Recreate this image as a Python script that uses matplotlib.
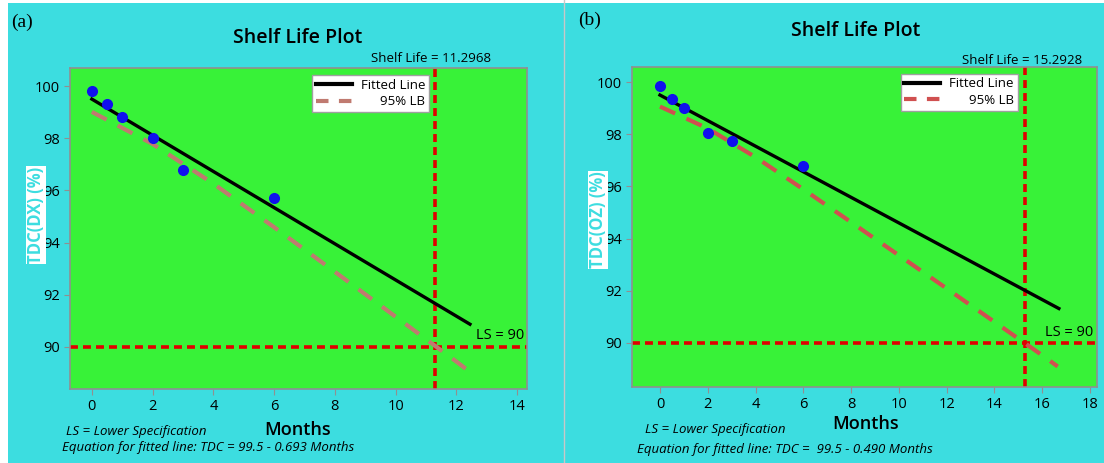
import matplotlib
matplotlib.use("Agg")
import matplotlib.pyplot as plt
from matplotlib.lines import Line2D
from matplotlib.patches import Rectangle

plt.rcParams['font.family'] = ['Open Sans', 'DejaVu Sans']

# measured points
months_a = [0, 0.5, 1, 2, 3, 6]
tdc_dx = [99.8, 99.3, 98.8, 98.0, 96.8, 95.7]
months_b = [0, 0.5, 1, 2, 3, 6]
tdc_oz = [99.85, 99.35, 99.0, 98.05, 97.75, 96.8]

# fitted line ends
fit_x_a = [0, 12.45]
fit_y_a = [99.5, 90.87]
fit_x_b = [0, 16.7]
fit_y_b = [99.5, 91.32]

# 95% lower bound curves
lb_x_a = [0, 2, 4, 6, 8, 10, 12, 12.35]
lb_y_a = [99.01, 97.78, 96.26, 94.59, 92.88, 91.16, 89.44, 89.13]
lb_x_b = [0, 2, 4, 6, 8, 10, 12, 14, 16, 16.65]
lb_y_b = [99.06, 98.22, 97.12, 95.89, 94.63, 93.36, 92.09, 90.81, 89.53, 89.1]

shelf_a = 11.2968
shelf_b = 15.2928
ls_value = 90

CYAN = '#3cdde0'
GREEN = '#38f238'
RED = '#e00000'
W, H = 1104, 463

fig = plt.figure(figsize=(11.04, 4.63), dpi=100, facecolor=CYAN)


def ftext(x, y, s, **kw):
    return fig.text(x / W, 1 - y / H, s, **kw)


legends = []


def panel(rect, xs, ys, fx, fy, lx, ly, shelf, lbcol, xlim, xticks, ylim, ls_pos, leg_anchor):
    ax = fig.add_axes(rect)
    ax.set_facecolor(GREEN)
    for s in ax.spines.values():
        s.set_color('#909090')
        s.set_linewidth(1.2)
    ax.axhline(ls_value, color=RED, lw=2.6, ls=(0, (2.2, 1.4)), zorder=2)
    ax.axvline(shelf, color=RED, lw=2.6, ls=(0, (2.2, 1.4)), zorder=2)
    ax.plot(lx, ly, color=lbcol, lw=3, ls=(0, (4, 3)), zorder=3)
    ax.plot(fx, fy, color='black', lw=2.4, zorder=4)
    ax.plot(xs, ys, 'o', color='#1010ee', ms=7, zorder=5)
    ax.set_xlim(*xlim)
    ax.set_ylim(*ylim)
    ax.set_xticks(xticks)
    ax.set_yticks([90, 92, 94, 96, 98, 100])
    ax.tick_params(colors='#909090', labelcolor='black', labelsize=10.5, length=4)
    ax.text(ls_pos[0], ls_pos[1], 'LS = 90', transform=ax.transAxes, ha='right', va='center', fontsize=10.5)
    handles = [Line2D([], [], color='black', lw=3),
               Line2D([], [], color=lbcol, lw=3, ls=(0, (3, 2.5)))]
    leg = ax.legend(handles, ['Fitted Line', '95% LB'], loc='upper right', bbox_to_anchor=leg_anchor,
                    fontsize=9.5, frameon=True, fancybox=False, framealpha=1, edgecolor='#a0a0a0',
                    borderpad=0.3, handlelength=2.7, labelspacing=0.25, handletextpad=0.7, borderaxespad=0)
    leg.get_frame().set_linewidth(1)
    legends.append(leg)
    return ax


panel([0.0634, 0.160, 0.414, 0.693], months_a, tdc_dx, fit_x_a, fit_y_a, lb_x_a, lb_y_a, shelf_a,
      '#c07a70', (-0.72, 14.33), [0, 2, 4, 6, 8, 10, 12, 14], (88.39, 100.69),
      (0.993, 0.165), (0.786, 0.978))
panel([0.5725, 0.164, 0.421, 0.691], months_b, tdc_oz, fit_x_b, fit_y_b, lb_x_b, lb_y_b, shelf_b,
      '#d05050', (-1.17, 18.29), [0, 2, 4, 6, 8, 10, 12, 14, 16, 18], (88.31, 100.57),
      (0.993, 0.172), (0.83, 0.98))

# shelf life notes (drawn under the axes, as in the original)
ftext(491, 59, 'Shelf Life = %s' % shelf_a, fontsize=9.5, ha='right', va='center', zorder=-1)
ftext(1082, 60, 'Shelf Life = %s' % shelf_b, fontsize=9.5, ha='right', va='center', zorder=-1)

# panel labels and titles
ftext(11, 22, '(a)', family='Liberation Serif', fontsize=14, va='center', ha='left')
ftext(578, 20, '(b)', family='Liberation Serif', fontsize=14, va='center', ha='left')
ftext(298, 38, 'Shelf Life Plot', fontsize=14, fontweight='semibold', ha='center', va='center')
ftext(856, 31, 'Shelf Life Plot', fontsize=14, fontweight='semibold', ha='center', va='center')

# y labels
ftext(36, 215, 'TDC(DX) (%)', rotation=90, ha='center', va='center', fontsize=12, color=CYAN,
      fontweight='bold', bbox=dict(facecolor='white', edgecolor='none', pad=0.5))
ftext(598, 220, 'TDC(OZ) (%)', rotation=90, ha='center', va='center', fontsize=12, color=CYAN,
      fontweight='bold', bbox=dict(facecolor='white', edgecolor='none', pad=0.5))

# x labels
ftext(298, 430, 'Months', fontsize=13, fontweight='semibold', ha='center', va='center')
ftext(866, 424, 'Months', fontsize=13, fontweight='semibold', ha='center', va='center')

# footnotes
ftext(66, 431, 'LS = Lower Specification', fontsize=9.5, style='italic', ha='left', va='center')
ftext(62, 448, 'Equation for fitted line: TDC = 99.5 - 0.693 Months', fontsize=9.5, style='italic',
      ha='left', va='center')
ftext(645, 430, 'LS = Lower Specification', fontsize=9.5, style='italic', ha='left', va='center')
ftext(637, 450, 'Equation for fitted line: TDC =  99.5 - 0.490 Months', fontsize=9.5, style='italic',
      ha='left', va='center')

# separator between panels and white page edges
fig.add_artist(Line2D([564 / W, 564 / W], [0, 1], color='#c8c8c8', lw=1))
fig.add_artist(Rectangle((0, 0), 8 / W, 1, transform=fig.transFigure, facecolor='white', edgecolor='none'))
fig.add_artist(Rectangle((0, 1 - 3 / H), 1, 3 / H, transform=fig.transFigure, facecolor='white',
                         edgecolor='none'))

# right-align legend labels like the original
fig.canvas.draw()
r = fig.canvas.get_renderer()
for leg in legends:
    texts = leg.get_texts()
    widths = [t.get_window_extent(r).width for t in texts]
    for t, w in zip(texts, widths):
        t.set_x(max(widths) - w)

fig.savefig('out.png', dpi=100, facecolor=CYAN)
